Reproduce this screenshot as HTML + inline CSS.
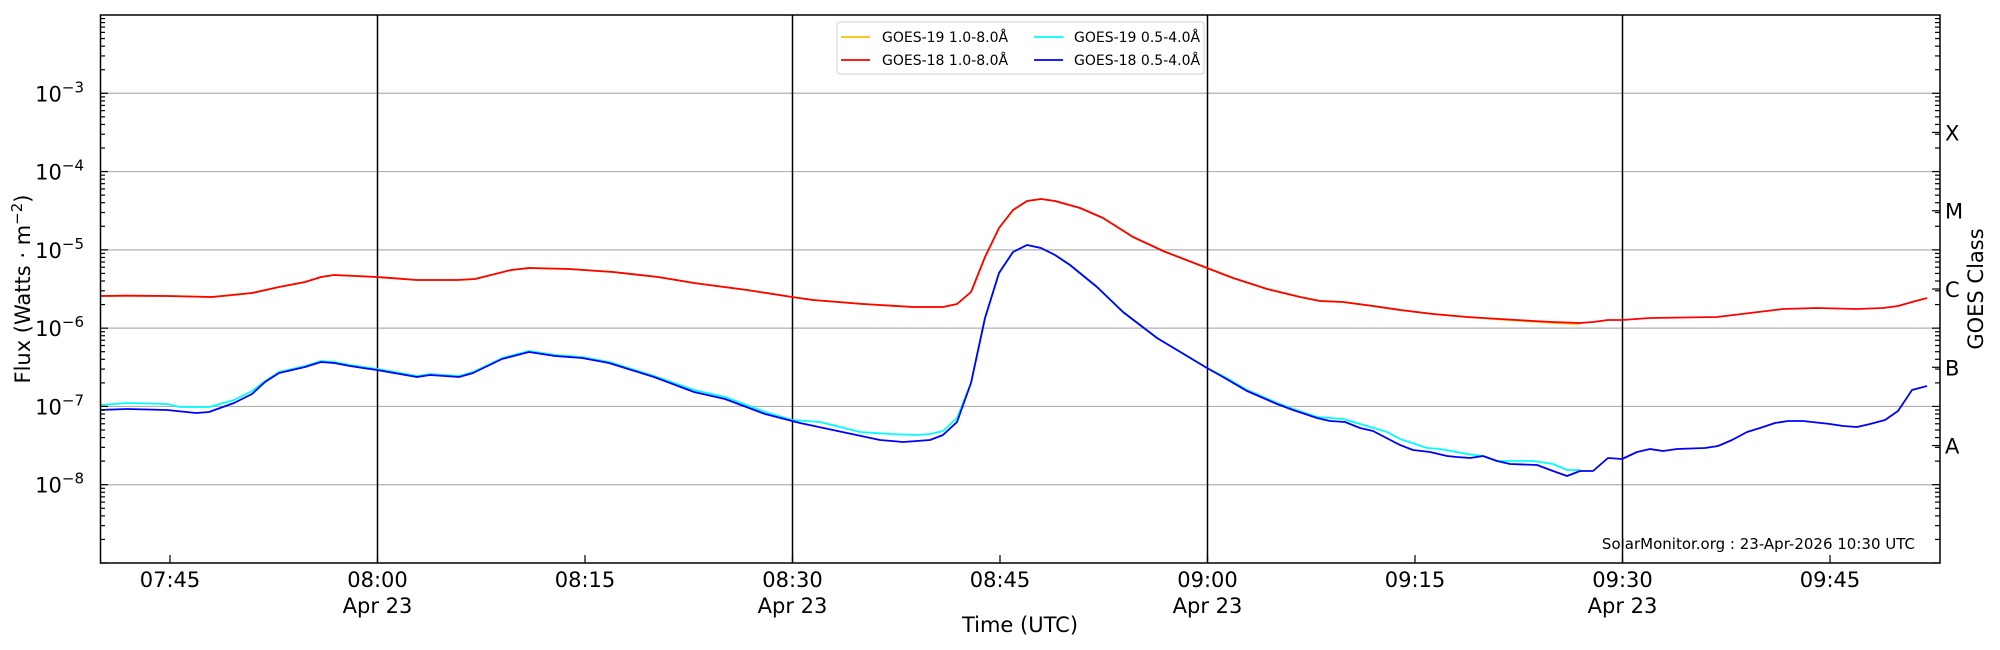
<!DOCTYPE html>
<html><head><meta charset="utf-8"><style>
html,body{margin:0;padding:0;background:#fff;}
svg{display:block;font-family:"DejaVu Sans","Liberation Sans",sans-serif;}
</style></head><body>
<svg id="s" width="2000" height="650" viewBox="0 0 2000 650" xmlns="http://www.w3.org/2000/svg">
<rect width="2000" height="650" fill="#fff"/>
<g id="grid" stroke="#b0b0b0" stroke-width="1.2"></g>
<g stroke="#000" stroke-width="1.5">
<line x1="377.5" y1="15" x2="377.5" y2="563"/>
<line x1="792.5" y1="15" x2="792.5" y2="563"/>
<line x1="1207.5" y1="15" x2="1207.5" y2="563"/>
<line x1="1622.5" y1="15" x2="1622.5" y2="563"/>
</g>
<g fill="none" stroke-width="1.8" stroke-linejoin="round">
<polyline stroke="#ffc000" points="100,296 127,295.7 167,296 212,297 252,293 279,287 305,282 321,277 334,275 377,277 417,280 457,280 475,279 511,270 529,268 569,269 613,272 658,277 694,283 747,290 792,297 813,300 863,304 913,307 943,307 957,304 971,292 985,257 999,228 1013,210 1027,201 1041,199 1055,201 1080,208 1103,218 1133,237 1163,251 1207,268 1233,278 1267,289 1300,297 1320,301 1343,302 1373,306 1400,310 1433,314 1467,317 1500,319.5 1533,321.5 1553,323 1580,324"/>
<polyline stroke="#00ffff" points="100,405 127,403 167,404 180,407 209,407 234,400 252,391 265,381 279,372 305,366 321,361 334,362 350,365 363,367 377,369 417,376 430,374 459,376 473,372 502,358 529,351 555,355 582,357 609,362 654,376 694,390 725,397 765,412 792,420 820,422 860,432 890,434 917,435 930,434 943,431 957,418 971,383 985,318 999,273 1013,252 1027,245 1041,248 1055,255 1070,265 1097,287 1123,312 1157,338 1207,368 1223,376 1247,390 1277,403 1293,409 1317,417 1343,419 1360,424 1387,432 1400,439 1427,448 1440,449 1467,454 1483,456 1497,461 1533,461 1553,464 1567,470 1580,470"/>
<polyline stroke="#ff0000" points="100,296 127,295.7 167,296 212,297 252,293 279,287 305,282 321,277 334,275 377,277 417,280 457,280 475,279 511,270 529,268 569,269 613,272 658,277 694,283 747,290 792,297 813,300 863,304 913,307 943,307 957,304 971,292 985,257 999,228 1013,210 1027,201 1041,199 1055,201 1080,208 1103,218 1133,237 1163,251 1207,268 1233,278 1267,289 1300,297 1320,301 1343,302 1373,306 1400,310 1433,314 1467,317 1500,319 1533,321 1553,322 1580,323 1593,322 1608,320 1622,320 1650,318 1717,317 1750,313 1783,309 1817,308 1857,309 1883,308 1898,306 1912,302 1927,298"/>
<polyline stroke="#0000ff" points="100,410 127,409 167,410 196,413 209,412 234,403 252,394 265,382 279,373 305,367 321,362 334,363 350,366 363,368 377,370 417,377 430,375 459,377 473,373 502,359 529,352 555,356 582,358 609,363 654,377 694,392 725,399 765,414 800,423 847,433 880,440 903,442 917,441 930,440 943,435 957,422 971,383 985,318 999,273 1013,252 1027,245 1041,248 1055,255 1070,265 1097,287 1123,312 1157,338 1207,368 1223,377 1247,391 1277,404 1293,410 1317,418 1330,421 1345,422 1360,428 1373,431 1400,445 1413,450 1430,452 1447,456 1457,457 1470,458 1483,456 1497,461 1510,464 1537,465 1553,471 1567,476 1580,471 1593,471 1608,458 1622,459 1637,452 1650,449 1663,451 1677,449 1705,448 1718,446 1732,440 1747,432 1760,428 1775,423 1788,421 1803,421 1830,424 1843,426 1857,427 1870,424 1885,420 1898,411 1912,390 1927,386"/>
</g>
<g id="ticks" stroke="#000" stroke-width="1.2"></g>
<g id="labels" font-size="21" fill="#000"></g>
<rect x="100.5" y="15" width="1839.5" height="548" fill="none" stroke="#000" stroke-width="1.5"/>
<rect x="837" y="22" width="367" height="52" rx="3" fill="#fff" fill-opacity="0.8" stroke="#d0d0d0" stroke-width="1"/>
<g font-size="14" fill="#000">
<line x1="841" y1="37" x2="870" y2="37" stroke="#ffc000" stroke-width="1.8"/>
<text x="882" y="42">GOES-19 1.0-8.0Å</text>
<line x1="841" y1="60" x2="870" y2="60" stroke="#ff0000" stroke-width="1.8"/>
<text x="882" y="65">GOES-18 1.0-8.0Å</text>
<line x1="1034" y1="37" x2="1063" y2="37" stroke="#00ffff" stroke-width="1.8"/>
<text x="1074" y="42">GOES-19 0.5-4.0Å</text>
<line x1="1034" y1="60" x2="1063" y2="60" stroke="#0000ff" stroke-width="1.8"/>
<text x="1074" y="65">GOES-18 0.5-4.0Å</text>
</g>
<text x="1915" y="549" font-size="15" text-anchor="end">SolarMonitor.org : 23-Apr-2026 10:30 UTC</text>
<g font-size="21">
<text x="1020" y="632" text-anchor="middle">Time (UTC)</text>
<text transform="translate(30,289) rotate(-90)" text-anchor="middle">Flux (Watts · m<tspan font-size="15" dy="-8">−2</tspan><tspan dy="8">)</tspan></text>
<text transform="translate(1983,289) rotate(-90)" text-anchor="middle">GOES Class</text>
</g>
</svg>
<script>
var NS="http://www.w3.org/2000/svg",top0=15,bot=563,dec=(bot-top0)/7;
function el(p,t,a,txt){var e=document.createElementNS(NS,t);for(var k in a)e.setAttribute(k,a[k]);if(txt)e.textContent=txt;document.getElementById(p).appendChild(e);return e;}
function yv(l){return bot-(l+9)*dec;}
for(var d=-8;d<=-3;d++){var y=yv(d);el("grid","line",{x1:100,y1:y,x2:1940,y2:y});}
for(var d=-9;d<=-3;d++){for(var m=1;m<=9;m++){var y=yv(d+Math.log10(m));if(y<top0)continue;var L=(m==1)?8:5;
el("ticks","line",{x1:100,y1:y,x2:100+L,y2:y});el("ticks","line",{x1:1940,y1:y,x2:1940-L,y2:y});}}
var cls=["A","B","C","M","X"];for(var i=0;i<5;i++){var y=yv(-8+i+0.5);el("ticks","line",{x1:1940,y1:y,x2:1932,y2:y});
el("labels","text",{x:1945,y:y+8},cls[i]);}
for(var d=-8;d<=-3;d++){var t=el("labels","text",{x:84,y:yv(d)+8,"text-anchor":"end"},"10");var ts=document.createElementNS(NS,"tspan");ts.setAttribute("font-size","15");ts.setAttribute("dy","-9");ts.textContent="−"+(-d);t.appendChild(ts);}
var xs=[["07:45",170,0],["08:00",377.5,1],["08:15",585,0],["08:30",792.5,1],["08:45",1000,0],["09:00",1207.5,1],["09:15",1415,0],["09:30",1622.5,1],["09:45",1830,0]];
xs.forEach(function(a){el("ticks","line",{x1:a[1],y1:bot,x2:a[1],y2:bot-8});el("labels","text",{x:a[1],y:587,"text-anchor":"middle"},a[0]);if(a[2])el("labels","text",{x:a[1],y:613,"text-anchor":"middle"},"Apr 23");});
</script>
</body></html>
